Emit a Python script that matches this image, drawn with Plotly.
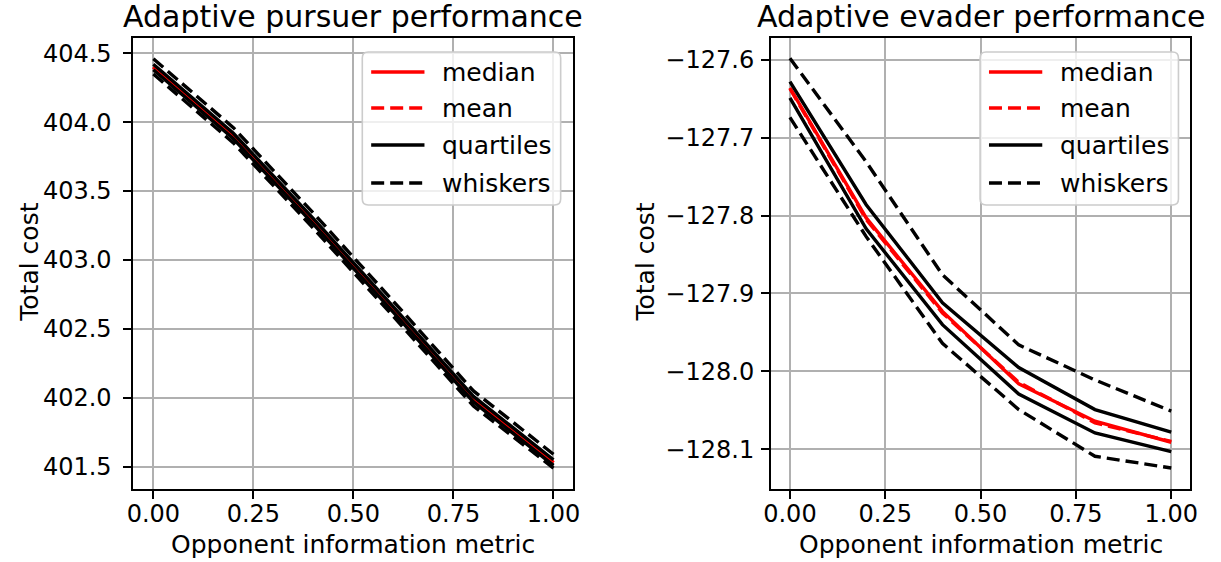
import plotly.graph_objects as go

W, H = 1221, 562

# ---------------- data ----------------
x_vals = [0.0, 0.2, 0.4, 0.6, 0.8, 1.0]

pursuer_median = [404.40, 403.90, 403.28, 402.64, 401.99, 401.53]
pursuer_mean = [404.40, 403.90, 403.28, 402.64, 401.99, 401.53]
pursuer_q1 = [404.38, 403.88, 403.26, 402.62, 401.97, 401.51]
pursuer_q3 = [404.42, 403.92, 403.30, 402.66, 402.01, 401.55]
pursuer_wlo = [404.35, 403.85, 403.23, 402.59, 401.94, 401.49]
pursuer_whi = [404.46, 403.96, 403.34, 402.70, 402.05, 401.59]

evader_median = [-127.636, -127.803, -127.923, -128.016, -128.064, -128.091]
evader_mean = [-127.637, -127.805, -127.925, -128.014, -128.066, -128.090]
evader_q1 = [-127.649, -127.817, -127.940, -128.029, -128.079, -128.103]
evader_q3 = [-127.628, -127.786, -127.912, -127.995, -128.049, -128.078]
evader_wlo = [-127.674, -127.827, -127.964, -128.049, -128.109, -128.124]
evader_whi = [-127.598, -127.731, -127.876, -127.966, -128.011, -128.051]

x_tickvals = [0.0, 0.25, 0.5, 0.75, 1.0]
x_ticktext = ["0.00", "0.25", "0.50", "0.75", "1.00"]
p_tickvals = [401.5, 402.0, 402.5, 403.0, 403.5, 404.0, 404.5]
p_ticktext = ["401.5", "402.0", "402.5", "403.0", "403.5", "404.0", "404.5"]
e_tickvals = [-128.1, -128.0, -127.9, -127.8, -127.7, -127.6]
e_ticktext = ["\u2212128.1", "\u2212128.0", "\u2212127.9", "\u2212127.8", "\u2212127.7", "\u2212127.6"]

legend_labels = ["median", "mean", "quartiles", "whiskers"]
titles = ["Adaptive pursuer performance", "Adaptive evader performance"]
xlabel = "Opponent information metric"
ylabel = "Total cost"

# ---------------- styling ----------------
FONT = "DejaVu Sans"
TXT = "#000000"
LW = 3.4
DASH = "13px,6px"
RED = "#ff0000"
BLK = "#000000"


def px(x):
    return x / W


def py(y):
    return 1 - y / H


AX_TOP, AX_BOT = 38, 489
LEFT_X = (127, 573)
RIGHT_X = (773, 1198)

fig = go.Figure()

series_styles = [
    (RED, "solid"),
    (RED, DASH),
    (BLK, "solid"),
    (BLK, "solid"),
    (BLK, DASH),
    (BLK, DASH),
]

panels = [
    ("x", "y", [pursuer_median, pursuer_mean, pursuer_q1, pursuer_q3, pursuer_wlo, pursuer_whi]),
    ("x2", "y2", [evader_median, evader_mean, evader_q1, evader_q3, evader_wlo, evader_whi]),
]
for xa, ya, ser in panels:
    for vals, (col, dash) in zip(ser, series_styles):
        fig.add_trace(go.Scatter(
            x=x_vals, y=vals, mode="lines", xaxis=xa, yaxis=ya,
            line=dict(color=col, width=LW, dash=dash), showlegend=False,
            hoverinfo="skip",
        ))

axis_common = dict(
    showline=True, linecolor="#000000", linewidth=1.8, mirror=True,
    ticks="outside", ticklen=8, tickwidth=1.8, tickcolor="#000000",
    showgrid=True, gridcolor="#b0b0b0", gridwidth=1.6,
    zeroline=False, tickfont=dict(family=FONT, size=24, color=TXT),
)

fig.update_layout(
    width=W, height=H,
    margin=dict(l=0, r=0, t=0, b=0),
    paper_bgcolor="white", plot_bgcolor="white",
    showlegend=False,
    xaxis=dict(domain=[px(LEFT_X[0]), px(LEFT_X[1])], range=[-0.05, 1.05],
               tickmode="array", tickvals=x_tickvals, ticktext=x_ticktext,
               anchor="y", ticklabelstandoff=-6, **axis_common),
    yaxis=dict(domain=[py(AX_BOT), py(AX_TOP)], range=[401.338, 404.611],
               tickmode="array", tickvals=p_tickvals, ticktext=p_ticktext,
               anchor="x", ticklabelstandoff=7, **axis_common),
    xaxis2=dict(domain=[px(RIGHT_X[0]), px(RIGHT_X[1])], range=[-0.05, 1.05],
                tickmode="array", tickvals=x_tickvals, ticktext=x_ticktext,
                anchor="y2", ticklabelstandoff=-6, **axis_common),
    yaxis2=dict(domain=[py(AX_BOT), py(AX_TOP)], range=[-128.151, -127.572],
                tickmode="array", tickvals=e_tickvals, ticktext=e_ticktext,
                anchor="x2", ticklabelstandoff=2, **axis_common),
)

annotations = []
shapes = []
for (x0, x1), title, ylab_x in [(LEFT_X, titles[0], 22), (RIGHT_X, titles[1], 646)]:
    cx = (x0 + x1) / 2
    annotations.append(dict(text=title, x=px(cx), y=py(17), xref="paper", yref="paper",
                            xanchor="center", yanchor="middle", showarrow=False,
                            font=dict(family=FONT, size=30, color=TXT)))
    annotations.append(dict(text=xlabel, x=px(cx), y=py(544), xref="paper", yref="paper",
                            xanchor="center", yanchor="middle", showarrow=False,
                            font=dict(family=FONT, size=25, color=TXT)))
    annotations.append(dict(text=ylabel, x=px(ylab_x), y=py(262), xref="paper", yref="paper",
                            xanchor="center", yanchor="middle", showarrow=False, textangle=-90,
                            font=dict(family=FONT, size=25, color=TXT)))

# legend boxes (drawn manually to match row spacing)
leg_rows = [72, 108, 145, 183]
leg_styles = [(RED, "solid"), (RED, "dash"), (BLK, "solid"), (BLK, "dash")]
for bx0, bx1 in [(359, 560), (985, 1186)]:
    by0, by1, r = 52, 205, 6
    path = (f"M {px(bx0 + r)},{py(by0)} L {px(bx1 - r)},{py(by0)} "
            f"Q {px(bx1)},{py(by0)} {px(bx1)},{py(by0 + r)} "
            f"L {px(bx1)},{py(by1 - r)} Q {px(bx1)},{py(by1)} {px(bx1 - r)},{py(by1)} "
            f"L {px(bx0 + r)},{py(by1)} Q {px(bx0)},{py(by1)} {px(bx0)},{py(by1 - r)} "
            f"L {px(bx0)},{py(by0 + r)} Q {px(bx0)},{py(by0)} {px(bx0 + r)},{py(by0)} Z")
    shapes.append(dict(type="path", path=path, xref="paper", yref="paper",
                       fillcolor="rgba(255,255,255,0.8)",
                       line=dict(color="#cccccc", width=1.6), layer="above"))
    lx0 = bx0 + 9
    lx1 = lx0 + 54
    for row_y, label, (col, dash) in zip(leg_rows, legend_labels, leg_styles):
        shapes.append(dict(type="line", xref="paper", yref="paper",
                           x0=px(lx0), x1=px(lx1), y0=py(row_y), y1=py(row_y),
                           line=dict(color=col, width=LW, dash=DASH if dash == "dash" else "solid"),
                           layer="above"))
        annotations.append(dict(text=label, x=px(lx1 + 16), y=py(row_y), xref="paper", yref="paper",
                                xanchor="left", yanchor="middle", showarrow=False,
                                font=dict(family=FONT, size=25, color=TXT)))

fig.update_layout(annotations=annotations, shapes=shapes)
fig.write_html("out.html")
